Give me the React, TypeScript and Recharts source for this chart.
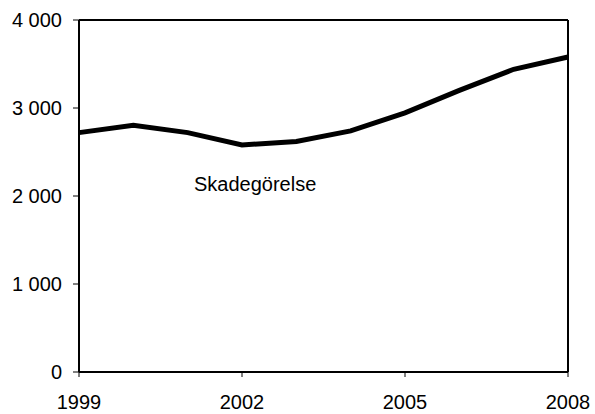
import { LineChart, Line, XAxis, YAxis, ReferenceLine, Customized } from "recharts"

const years = [1999, 2000, 2001, 2002, 2003, 2004, 2005, 2006, 2007, 2008]
const skadegorelse = [2720, 2805, 2720, 2580, 2620, 2740, 2945, 3200, 3440, 3580]
const xTicks = [1999, 2002, 2005, 2008]
const yTicks = [0, 1000, 2000, 3000, 4000]
const seriesLabel = "Skadegörelse"

const data = years.map((y, i) => ({ year: y, value: skadegorelse[i] }))

const fmt = (v: number) => v.toLocaleString("en-US").replace(/,/g, " ")

const font = "'Liberation Sans', Arial, sans-serif"

const SeriesLabel = () => (
  <text x={194} y={191} fontSize={20} fontFamily={font} fill="#000">
    {seriesLabel}
  </text>
)

export default function App() {
  return (
    <div style={{ position: "absolute", left: 0, top: 0, background: "#fff" }}>
      <LineChart width={595} height={414} data={data} margin={{ top: 20, right: 27, bottom: 0, left: 0 }}>
        <XAxis
          dataKey="year"
          type="number"
          domain={[1999, 2008]}
          ticks={xTicks}
          height={42}
          stroke="#000"
          strokeWidth={2}
          tickSize={5}
          tickMargin={18}
          tick={{ fontSize: 20, fill: "#000", fontFamily: font }}
          tickLine={{ stroke: "#000", strokeWidth: 1 }}
        />
        <YAxis
          type="number"
          domain={[0, 4000]}
          ticks={yTicks}
          width={79}
          stroke="#000"
          strokeWidth={2}
          tickSize={6}
          tickMargin={11}
          tickFormatter={fmt}
          tick={{ fontSize: 20, fill: "#000", fontFamily: font }}
          tickLine={{ stroke: "#000", strokeWidth: 1 }}
        />
        <ReferenceLine y={4000} stroke="#000" strokeWidth={2} />
        <ReferenceLine x={2008} stroke="#000" strokeWidth={2} />
        <Line
          type="linear"
          dataKey="value"
          stroke="#000"
          strokeWidth={5}
          dot={false}
          isAnimationActive={false}
        />
        <Customized component={SeriesLabel} />
      </LineChart>
    </div>
  )
}
